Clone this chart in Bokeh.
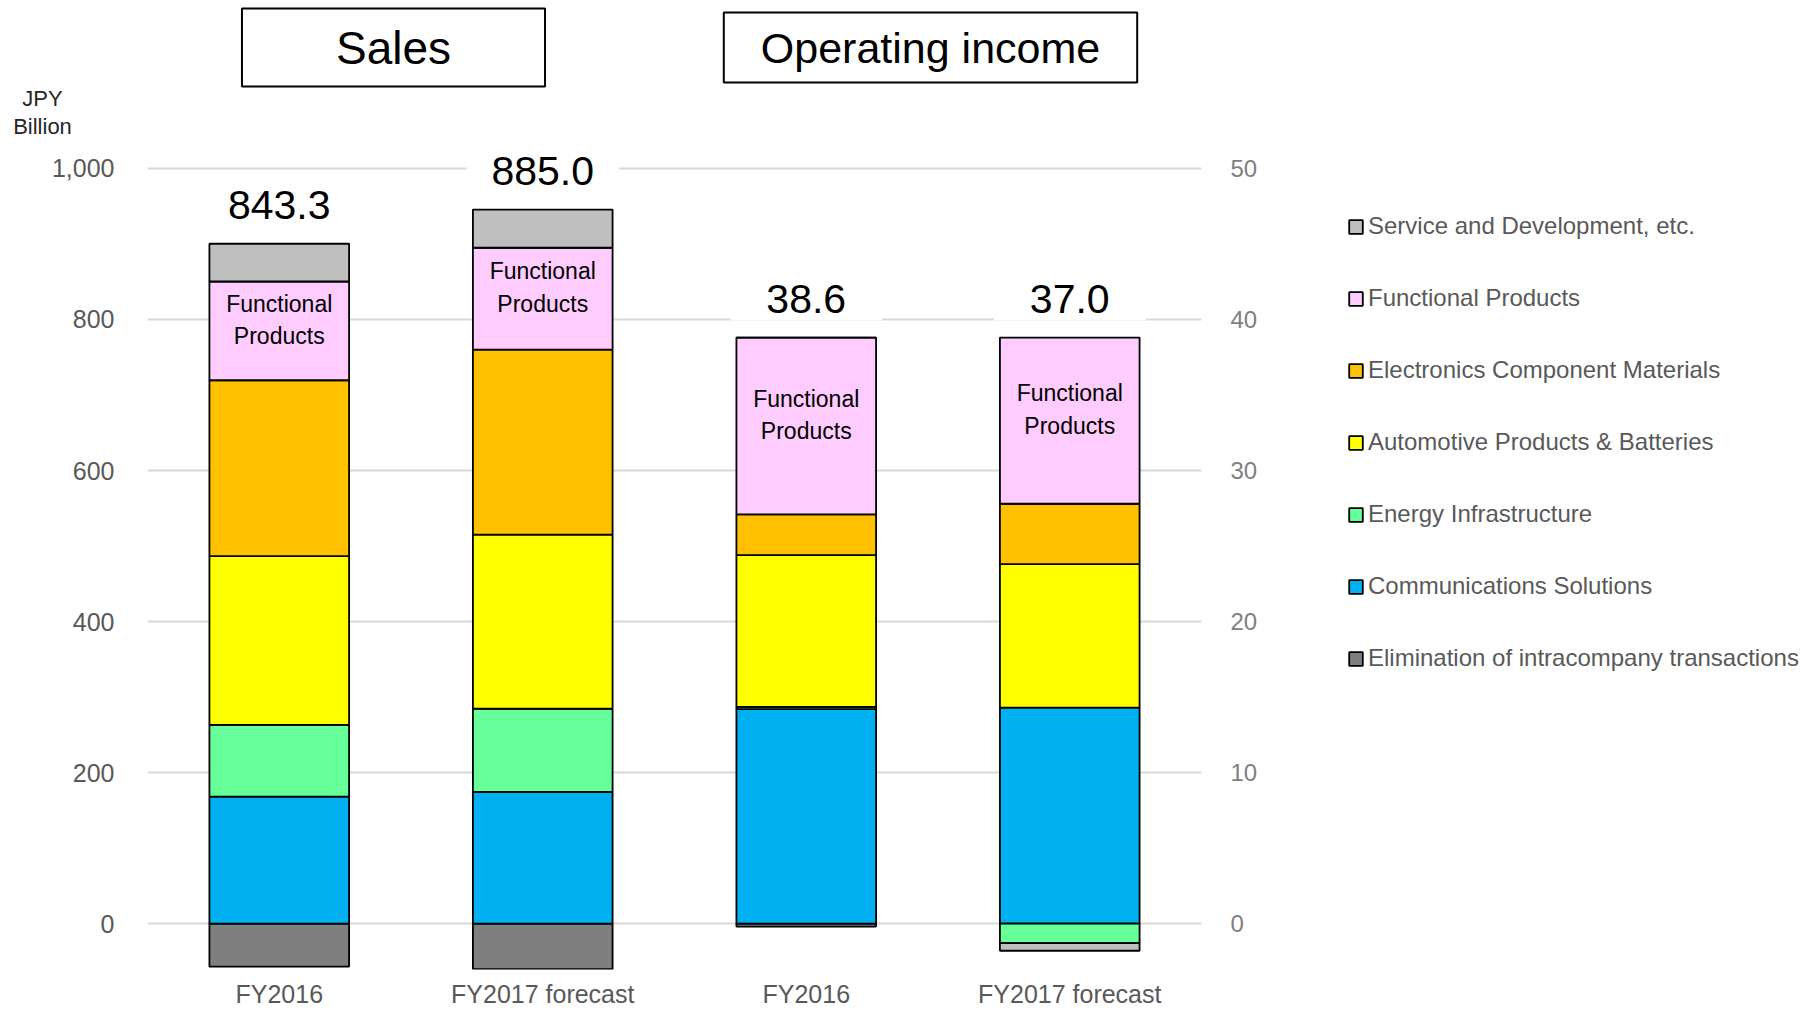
import numpy as np
from bokeh.plotting import figure
from bokeh.layouts import column, row
from bokeh.models import (Range1d, LinearAxis, FixedTicker, NumeralTickFormatter,
                          Label, Legend, LegendItem, ColumnDataSource)
from bokeh.core.properties import value
from bokeh.embed import file_html
from bokeh.resources import INLINE

# ------------------------------------------------------------------ data
categories = ["FY2016", "FY2017 forecast"]
segments = ["Elimination of intracompany transactions", "Communications Solutions",
            "Energy Infrastructure", "Automotive Products & Batteries",
            "Electronics Component Materials", "Functional Products",
            "Service and Development, etc."]
segment_colors = ["#7F7F7F", "#00B0F0", "#66FF99", "#FFFF00", "#FFC000", "#FFCCFF", "#BFBFBF"]

sales_elimination = [-57.0, -60.5]
sales_communications = [168.0, 174.5]
sales_energy = [95.2, 110.0]
sales_automotive = [223.5, 230.5]
sales_electronics = [232.8, 245.0]
sales_functional = [130.8, 135.0]
sales_service = [50.0, 50.5]
sales_totals = ["843.3", "885.0"]

op_elimination = [-0.2, 0.0]
op_communications = [14.2, 14.3]
op_energy = [0.15, -1.3]
op_automotive = [10.05, 9.5]
op_electronics = [2.7, 4.0]
op_functional = [11.7, 11.0]
op_service = [0.0, -0.5]
op_totals = ["38.6", "37.0"]

panel_titles = ["Sales", "Operating income"]
left_ticks = [0, 200, 400, 600, 800, 1000]
right_ticks = [0, 10, 20, 30, 40, 50]
unit_label = "JPY\nBillion"
inside_label = "Functional\nProducts"

# ------------------------------------------------------------------ layout
CANVAS_W, CANVAS_H = 1814, 1010
TOP_H = 140                  # strip holding the panel titles and unit label
FRAME_LEFT = 147
FRAME_W = 1054
RIGHT_BORDER = 100
BOTTOM_BORDER = 40
MAIN_W = FRAME_LEFT + FRAME_W + RIGHT_BORDER
MAIN_H = CANVAS_H - TOP_H
FRAME_H = MAIN_H - BOTTOM_BORDER
PX_PER_UNIT = 0.756          # px per JPY billion (sales axis)
ZERO_PX = 924 - TOP_H        # zero line, relative to main figure top
RIGHT_SCALE = 20.0           # sales units per operating-income unit
BAR_W = 0.53

Y1 = ZERO_PX / PX_PER_UNIT
Y0 = Y1 - FRAME_H / PX_PER_UNIT

n = len(categories)
sales_x = np.arange(n) + 0.5
op_x = np.arange(n) + n + 0.5


def stack(series_list):
    pos = np.zeros(n)
    neg = np.zeros(n)
    out = []
    for vals in series_list:
        v = np.asarray(vals, dtype=float)
        bottom = np.where(v >= 0, pos, neg + v)
        top = np.where(v >= 0, pos + v, neg)
        pos = np.where(v >= 0, pos + v, pos)
        neg = np.where(v < 0, neg + v, neg)
        out.append((bottom, top))
    return out, pos


sales_stack, sales_top = stack([sales_elimination, sales_communications, sales_energy,
                                sales_automotive, sales_electronics, sales_functional,
                                sales_service])
op_stack, op_top = stack([op_elimination, op_communications, op_energy, op_automotive,
                          op_electronics, op_functional, op_service])

# ------------------------------------------------------------------ top strip
top = figure(width=CANVAS_W, height=TOP_H, x_range=Range1d(0, CANVAS_W),
             y_range=Range1d(TOP_H, 0), output_backend="svg", toolbar_location=None,
             title=None, x_axis_location=None, y_axis_location=None,
             min_border=0, outline_line_color=None)
top.grid.visible = False
title_specs = [(393, 47, "46px", (94, 13)), (930, 47, "43px", (37, 11))]
for txt, (tx, ty, fs, pad) in zip(panel_titles, title_specs):
    top.add_layout(Label(x=tx, y=ty, text=txt, text_align="center",
                         text_baseline="middle", text_font="Liberation Sans",
                         text_font_size=fs, text_color="black",
                         background_fill_color="white", border_line_color="black",
                         border_line_width=2, padding=pad))
top.add_layout(Label(x=42, y=112, text=unit_label, text_align="center",
                     text_baseline="middle", text_font="Liberation Sans",
                     text_font_size="22px", text_color="#262626",
                     text_line_height=1.15))

# ------------------------------------------------------------------ main chart
p = figure(width=MAIN_W, height=MAIN_H,
           x_range=Range1d(0, 2 * n), y_range=Range1d(Y0, Y1),
           output_backend="svg", toolbar_location=None, title=None,
           min_border_left=FRAME_LEFT, min_border_right=RIGHT_BORDER,
           min_border_top=0, min_border_bottom=BOTTOM_BORDER,
           outline_line_color=None, background_fill_color="white", border_fill_color="white")
p.extra_y_ranges = {"op": Range1d(Y0 / RIGHT_SCALE, Y1 / RIGHT_SCALE)}

TICK_FONT = "Liberation Sans"
yax = p.yaxis[0]
yax.ticker = FixedTicker(ticks=left_ticks)
yax.formatter = NumeralTickFormatter(format="0,0")
yax.major_label_standoff = 33

xax = p.xaxis[0]
xax.ticker = FixedTicker(ticks=list(sales_x) + list(op_x))
xax.major_label_overrides = {float(x): c for x, c in zip(list(sales_x) + list(op_x), categories + categories)}
xax.major_label_standoff = 10

rax = LinearAxis(y_range_name="op", ticker=FixedTicker(ticks=right_ticks))
rax.major_label_standoff = 29
p.add_layout(rax, "right")

for ax, col in [(yax, "#595959"), (xax, "#595959"), (rax, "#7F7F7F")]:
    ax.axis_line_color = None
    ax.major_tick_line_color = None
    ax.minor_tick_line_color = None
    ax.major_tick_out = 0
    ax.minor_tick_out = 0
    ax.major_label_text_font = TICK_FONT
    ax.major_label_text_font_size = "25px"
    ax.major_label_text_color = col
rax.major_label_text_font_size = "24px"

p.xgrid.visible = False
p.ygrid.ticker = FixedTicker(ticks=left_ticks)
p.ygrid.grid_line_color = "#D9D9D9"
p.ygrid.grid_line_width = 2

for i, name in enumerate(segments):
    b, t = sales_stack[i]
    p.vbar(x="x", bottom="bottom", top="top", width=BAR_W,
           source=ColumnDataSource(dict(x=sales_x, bottom=b, top=t)),
           fill_color=segment_colors[i], line_color="black", line_width=1.8)
    b2, t2 = op_stack[i]
    p.vbar(x="x", bottom="bottom", top="top", width=BAR_W,
           source=ColumnDataSource(dict(x=op_x, bottom=b2, top=t2)),
           fill_color=segment_colors[i], line_color="black", line_width=1.8,
           y_range_name="op")

fp = segments.index("Functional Products")
fb, ft = sales_stack[fp]
p.text(x=sales_x, y=(fb + ft) / 2, text=[inside_label] * n, text_align="center",
       text_baseline="middle", y_offset=-11, text_font=value("Liberation Sans"),
       text_font_size="23px", text_color="black", text_line_height=1.25)
ob, ot = op_stack[fp]
p.text(x=op_x, y=(ob + ot) / 2, text=[inside_label] * n, text_align="center",
       text_baseline="middle", y_offset=-11, text_font=value("Liberation Sans"),
       text_font_size="23px", text_color="black", text_line_height=1.25,
       y_range_name="op")

for x, yt, txt in zip(sales_x, sales_top, sales_totals):
    p.add_layout(Label(x=x, y=yt, y_offset=39, text=txt, text_align="center",
                       text_baseline="middle", text_font="Liberation Sans",
                       text_font_size="41px", text_color="black",
                       background_fill_color="white", padding=(25, 8)))
for x, yt, txt in zip(op_x, op_top, op_totals):
    p.add_layout(Label(x=x, y=yt, y_offset=39, text=txt, text_align="center",
                       text_baseline="middle", text_font="Liberation Sans",
                       text_font_size="41px", text_color="black",
                       background_fill_color="white", padding=(36, 8),
                       y_range_name="op"))

# ------------------------------------------------------------------ legend panel
LEG_W = CANVAS_W - MAIN_W
leg = figure(width=LEG_W, height=MAIN_H, x_range=Range1d(0, 1), y_range=Range1d(0, 1),
             output_backend="svg", toolbar_location=None, title=None,
             x_axis_location=None, y_axis_location=None, min_border=0,
             outline_line_color=None)
leg.grid.visible = False
proxies = []
for i, name in enumerate(segments):
    # legend swatch proxies (no drawable data point)
    proxies.append(leg.vbar(x=[np.nan], bottom=[np.nan], top=[np.nan], width=0.1,
                            fill_color=segment_colors[i],
                            line_color="black", line_width=1.8))
items = [LegendItem(label=segments[i], renderers=[proxies[i]])
         for i in reversed(range(len(segments)))]
legend = Legend(items=items, location=(1347 - MAIN_W, CANVAS_H - 213 - 460 - 40),
                orientation="vertical",
                glyph_width=17, glyph_height=17, label_standoff=4,
                label_height=28, spacing=44, padding=0, margin=0,
                border_line_color=None, background_fill_alpha=0,
                label_text_font="Liberation Sans", label_text_font_size="24px",
                label_text_color="#595959")
leg.add_layout(legend)

layout = column(top, row(p, leg))
open("out.html", "w").write(file_html(layout, INLINE))
